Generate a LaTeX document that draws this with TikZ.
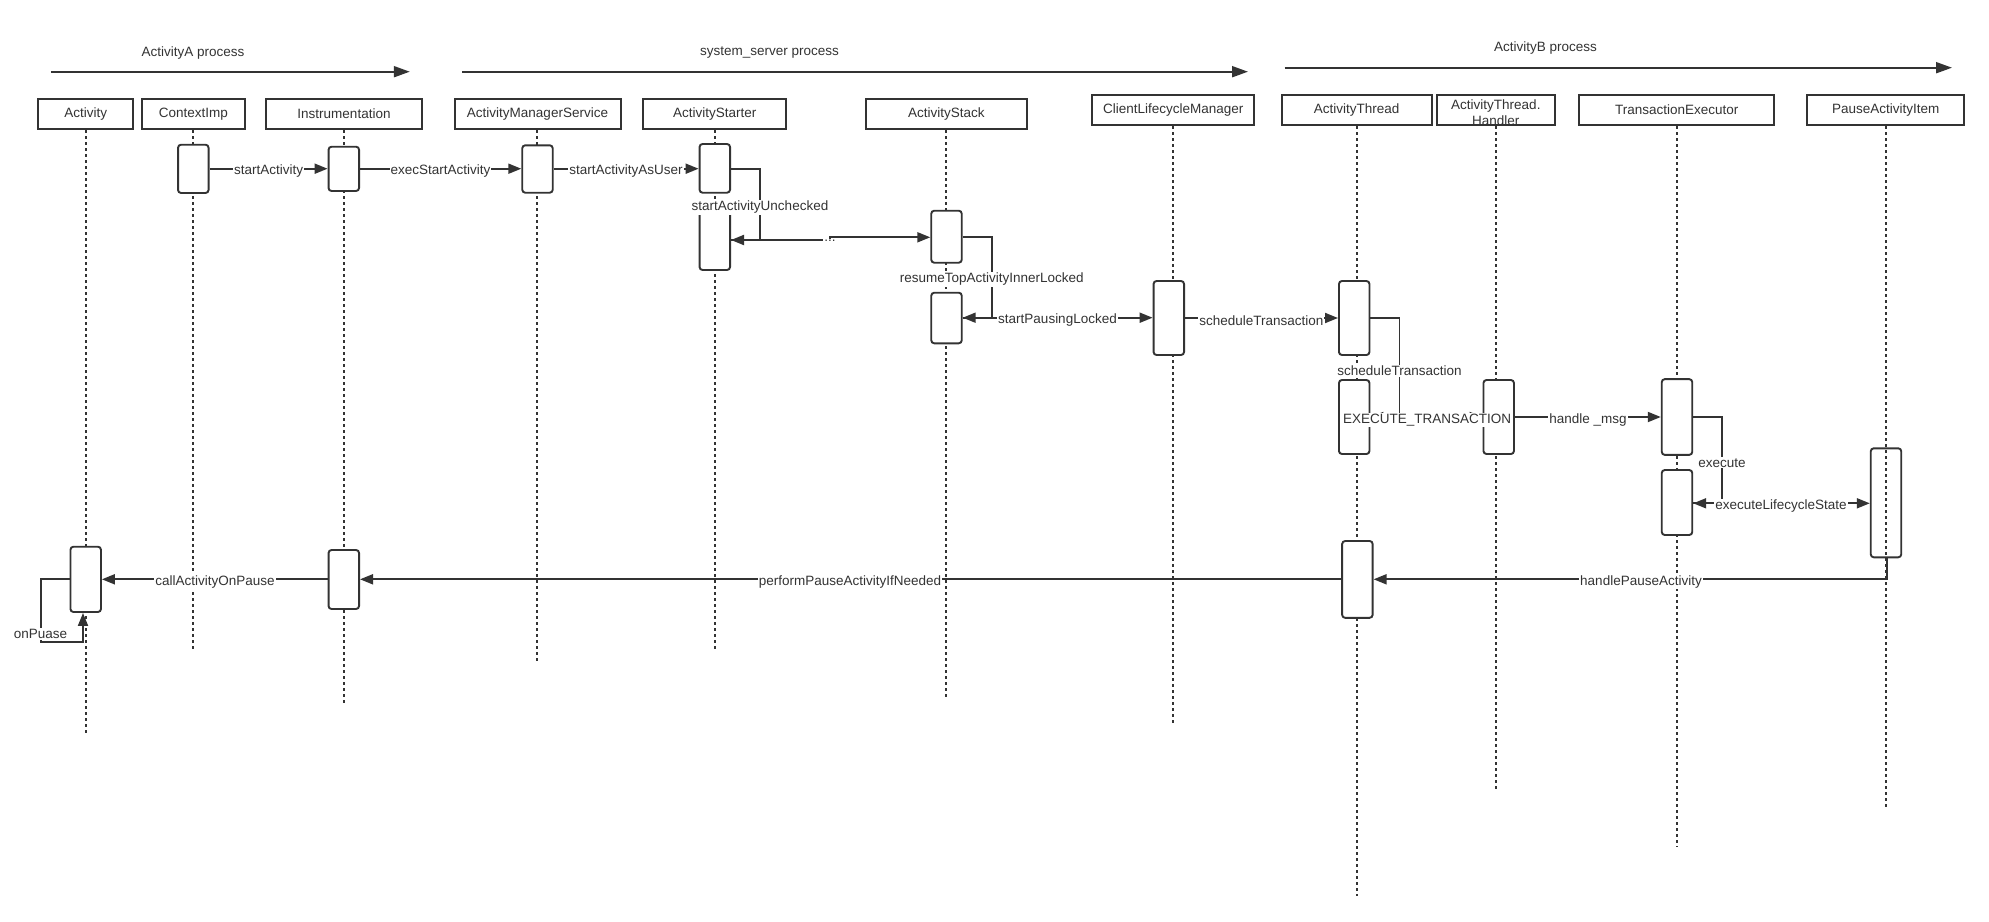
\documentclass[tikz,border=0pt]{standalone}
\usepackage{fontspec}
\setmainfont{Liberation Sans}
\usetikzlibrary{arrows.meta}
\definecolor{ink}{HTML}{333333}
\begin{document}
\begin{tikzpicture}[x=1pt,y=-1pt,
  font=\fontsize{13.5}{15}\selectfont, text=ink,
  hdr/.style={draw=ink, line width=2pt, minimum height=30.5pt, inner sep=0pt, fill=white},
  act/.style={draw=ink, line width=1.9pt, rounded corners=3pt, fill=white, minimum width=30.5pt, inner sep=0pt},
  life/.style={draw=ink, line width=2pt, dash pattern=on 3pt off 3pt},
  msg/.style={draw=ink, line width=1.9pt, -{Triangle[length=13pt,width=10pt]}},
  proc/.style={draw=ink, line width=2pt, -{Triangle[length=16pt,width=11pt]}},
  lbl/.style={fill=white, inner sep=1pt, text=ink},
]
\useasboundingbox (0,0) rectangle (1989,921);

% process titles and arrows
\coordinate (pA0) at (50.9,71.7);  \coordinate (pA1) at (409.8,71.7);
\coordinate (pS0) at (462,71.7);   \coordinate (pS1) at (1248,71.7);
\coordinate (pB0) at (1284.5,67.7); \coordinate (pB1) at (1952,67.7);
\draw[proc] (pA0) -- (pA1);
\draw[proc] (pS0) -- (pS1);
\draw[proc] (pB0) -- (pB1);
\node (tA) at (192.9,52.7) {ActivityA process};
\node (tS) at (769.6,52.7) {system\_server process};
\node (tB) at (1545.4,47.7) {ActivityB process};

% lifeline ends
\coordinate (eAct) at (85.7,733.3);
\coordinate (eCtx) at (193.3,649.4);
\coordinate (eIns) at (343.8,705.6);
\coordinate (eAms) at (537.2,663.3);
\coordinate (eSt)  at (715,649.5);
\coordinate (eSk)  at (946.4,697.7);
\coordinate (eClm) at (1172.8,723);
\coordinate (eAt)  at (1357,895.6);
\coordinate (eHd)  at (1496,791.6);
\coordinate (eTe)  at (1677,847.4);
\coordinate (ePai) at (1886,806.8);

% header boxes
\node[hdr, minimum width=94.6pt]  (hAct) at (85.7,113.85) {Activity};
\node[hdr, minimum width=103.6pt] (hCtx) at (193.3,113.85) {ContextImp};
\node[hdr, minimum width=156.7pt] (hIns) at (344,113.85) {Instrumentation};
\node[hdr, minimum width=166pt]   (hAms) at (537.5,113.85) {ActivityManagerService};
\node[hdr, minimum width=142.9pt] (hSt)  at (714.8,113.85) {ActivityStarter};
\node[hdr, minimum width=161.6pt] (hSk)  at (946.4,113.85) {ActivityStack};
\node[hdr, minimum width=162pt]   (hClm) at (1173.3,110) {ClientLifecycleManager};
\node[hdr, minimum width=150pt]   (hAt)  at (1356.7,110) {ActivityThread};
\node[hdr, minimum width=118.3pt] (hHd)  at (1495.85,110) {};
\node[hdr, minimum width=194.7pt] (hTe)  at (1676.65,110) {TransactionExecutor};
\node[hdr, minimum width=157pt]   (hPai) at (1885.8,110) {PauseActivityItem};

% lifelines
\draw[life] (eAct |- hAct.south) -- (eAct);
\draw[life] (eCtx |- hCtx.south) -- (eCtx);
\draw[life] (eIns |- hIns.south) -- (eIns);
\draw[life] (eAms |- hAms.south) -- (eAms);
\draw[life] (eSt |- hSt.south) -- (eSt);
\draw[life] (eSk |- hSk.south) -- (eSk);
\draw[life] (eClm |- hClm.south) -- (eClm);
\draw[life] (eAt |- hAt.south) -- (eAt);
\draw[life] (eHd |- hHd.south) -- (eHd);
\draw[life] (eTe |- hTe.south) -- (eTe);
\draw[life] (ePai |- hPai.south) -- (ePai);

\node[align=center, inner sep=0pt] (hHdT) at (1495.85,112.7) {ActivityThread.\\[0.3pt]Handler};

% activations
\node[act, minimum height=48.3pt] (ctxA)  at (193.3,168.85) {};
\node[act, minimum height=44.3pt] (insA1) at (343.8,168.85) {};
\node[act, minimum height=47.4pt] (amsA)  at (537.5,169) {};
\node[act, minimum height=48.7pt] (stA1)  at (714.8,168.35) {};
\node[act, minimum height=67pt]   (stA2)  at (714.8,236.5) {};
\node[act, minimum height=52pt]   (skA1)  at (946.5,236.7) {};
\node[act, minimum height=50.6pt] (skA2)  at (946.5,318) {};
\node[act, minimum height=74pt]   (clmA)  at (1168.8,318) {};
\node[act, minimum height=74pt]   (atA1)  at (1354.2,318) {};
\node[act, minimum height=74pt]   (atA2)  at (1354.2,417) {};
\node[act, minimum height=74pt]   (hdA)   at (1498.7,417) {};
\node[act, minimum height=75.7pt] (teA1)  at (1677,417) {};
\node[act, minimum height=65pt]   (teA2)  at (1677,502.5) {};
\node[act, minimum height=109pt, fill=none] (paiA) at (1886,502.8) {};
\node[act, minimum height=76.8pt] (atA3)  at (1357.4,579.4) {};
\node[act, minimum height=59pt]   (insA2) at (343.8,579.5) {};
\node[act, minimum height=65.3pt] (actA)  at (85.7,579.35) {};

% messages
\draw[msg] (ctxA.east |- 0,168.7) -- (insA1.west |- 0,168.7);
\draw[msg] (insA1.east |- 0,168.7) -- (amsA.west |- 0,168.7);
\draw[msg] (amsA.east |- 0,168.7) -- (stA1.west |- 0,168.7);
\draw[msg] (stA1.east |- 0,169) -| (760,240) -- (stA2.east |- 0,240);
\draw[msg] (stA2.east |- 0,240) -- (830,240) -- (830,237.3) -- (skA1.west |- 0,237.3);
\draw[msg] (skA1.east |- 0,237.3) -| (991.7,317.7) -- (skA2.east |- 0,317.7);
\draw[msg] (skA2.east |- 0,317.7) -- (clmA.west |- 0,317.7);
\draw[msg] (clmA.east |- 0,318) -- (atA1.west |- 0,318);
\draw[msg] (atA1.east |- 0,318.3) -| (1399.5,417) -- (atA2.east |- 0,417);
\draw[msg] (atA2.east |- 0,417) -- (hdA.west |- 0,417);
\draw[msg] (hdA.east |- 0,417) -- (teA1.west |- 0,417);
\draw[msg] (teA1.east |- 0,417) -| (1722,503.3) -- (teA2.east |- 0,503.3);
\draw[msg] (teA2.east |- 0,503.3) -- (paiA.west |- 0,503.3);
\draw[msg] (1887.3,0 |- paiA.south) |- (atA3.east |- 0,579.3);
\draw[msg] (atA3.west |- 0,579.3) -- (insA2.east |- 0,579.3);
\draw[msg] (insA2.west |- 0,579.3) -- (actA.east |- 0,579.3);
\draw[msg] (actA.west |- 0,579.3) -- (41,579.3) -- (41,641.7) -- (83,641.7) -- (83,0 |- actA.south);

% labels
\node[lbl] (l1)  at (268.7,171.5) {startActivity};
\node[lbl] (l2)  at (440.5,171.5) {execStartActivity};
\node[lbl] (l3)  at (626,171.5) {startActivityAsUser};
\node[lbl] (l4)  at (760,207.3) {startActivityUnchecked};
\node[lbl] (l5)  at (830,240.5) {...};
\node[lbl] (l6)  at (991.7,279.3) {resumeTopActivityInnerLocked};
\node[lbl] (l7)  at (1057.5,320.3) {startPausingLocked};
\node[lbl] (l8)  at (1261.4,320.5) {scheduleTransaction};
\node[lbl] (l9)  at (1399.5,370.7) {scheduleTransaction};
\node[lbl] (l10) at (1427,420) {EXECUTE\_TRANSACTION};
\node[lbl] (l11) at (1588,419.8) {handle \_msg};
\node[lbl] (l12) at (1722,462.7) {execute};
\node[lbl] (l13) at (1781,505.8) {executeLifecycleState};
\node[lbl] (l14) at (1641,581.7) {handlePauseActivity};
\node[lbl] (l15) at (850,581.7) {performPauseActivityIfNeeded};
\node[lbl] (l16) at (215,581.7) {callActivityOnPause};
\node[lbl] (l17) at (40.5,634) {onPuase};
\end{tikzpicture}
\end{document}
